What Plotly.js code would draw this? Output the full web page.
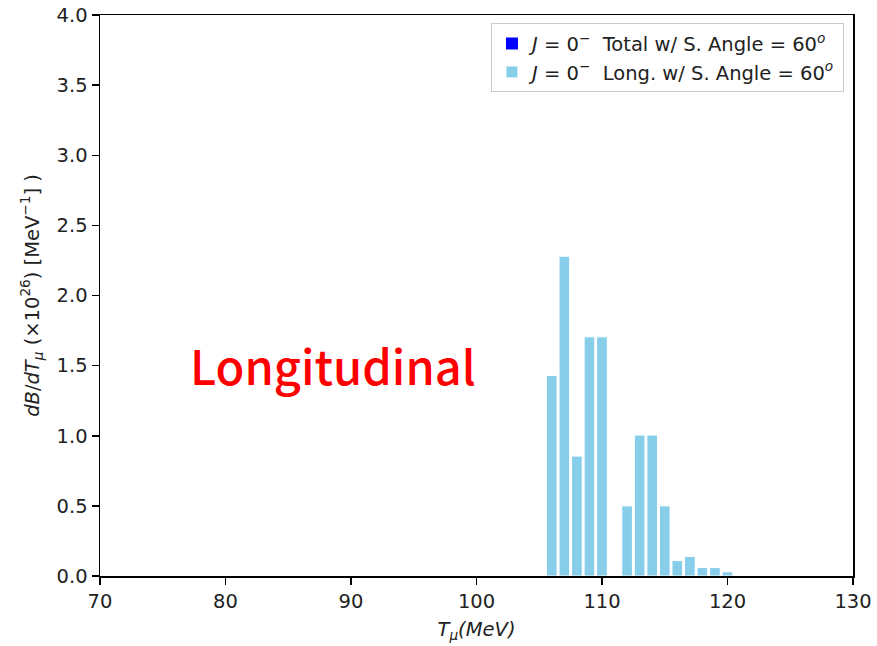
<!DOCTYPE html>
<html>
<head>
<meta charset="utf-8">
<script src="https://cdn.plot.ly/plotly-3.0.1.min.js"></script>
<style>html,body{margin:0;padding:0;background:#fff;}#chart{width:877px;height:646px;}</style>
</head>
<body>
<div id="chart"></div>
<script>
// Muon kinetic energy bin centers (MeV)
const energies = [106, 107, 108, 109, 110, 112, 113, 114, 115, 116, 117, 118, 119, 120];
// Longitudinal dB/dT (x1e26 MeV^-1)
const longValues = [1.43, 2.28, 0.855, 1.705, 1.705, 0.50, 1.005, 1.005, 0.50, 0.11, 0.14, 0.06, 0.06, 0.03];
// Total series (not visible in the picture)
const totalValues = [0, 0, 0, 0, 0, 0, 0, 0, 0, 0, 0, 0, 0, 0];
const xTicks = [70, 80, 90, 100, 110, 120, 130];
const yTicks = [0, 0.5, 1.0, 1.5, 2.0, 2.5, 3.0, 3.5, 4.0];

const font = "DejaVu Sans, sans-serif";
const fs = 19.5;
const traces = [
  {
    type: 'bar', x: energies, y: totalValues, width: 0.8,
    name: '<i>J</i> = 0<sup>−</sup>  Total w/ S. Angle = 60<sup><i>o</i></sup>',
    marker: {color: '#0000ff', line: {width: 0}}
  },
  {
    type: 'bar', x: energies, y: longValues, width: 0.85,
    name: '<i>J</i> = 0<sup>−</sup>  Long. w/ S. Angle = 60<sup><i>o</i></sup>',
    marker: {color: '#87ceeb', line: {color: '#ffffff', width: 1}}
  }
];
const layout = {
  width: 877, height: 646,
  margin: {l: 100, r: 24, t: 15, b: 70},
  paper_bgcolor: '#fff', plot_bgcolor: '#fff',
  barmode: 'overlay',
  font: {family: font, size: fs, color: '#222'},
  showlegend: true,
  legend: {
    x: 0.988, y: 0.985, xanchor: 'right', yanchor: 'top',
    bordercolor: '#cccccc', borderwidth: 1, bgcolor: 'rgba(255,255,255,0.9)',
    font: {family: font, size: fs, color: '#222'}, traceorder: 'normal',
    tracegroupgap: 4
  },
  xaxis: {
    range: [70, 130], tickvals: xTicks, ticktext: xTicks.map(String),
    ticks: 'outside', ticklen: 7, tickwidth: 1.5, tickcolor: '#000',
    showline: true, linecolor: '#000', linewidth: 1.5, mirror: true,
    showgrid: false, zeroline: false,
    tickfont: {family: font, size: fs, color: '#222'},
    title: {text: '<i>T<sub>μ</sub>(MeV)</i>', font: {family: font, size: fs, color: '#222'}, standoff: 10}
  },
  yaxis: {
    range: [0, 4.0], tickvals: yTicks, ticktext: yTicks.map(v => v.toFixed(1)),
    ticks: 'outside', ticklen: 7, tickwidth: 1.5, tickcolor: '#000',
    showline: true, linecolor: '#000', linewidth: 1.5, mirror: true,
    showgrid: false, zeroline: false,
    tickfont: {family: font, size: fs, color: '#222'},
    title: {text: '<i>dB</i>/<i>dT<sub>μ</sub></i> (×10<sup>26</sup>) [MeV<sup>−1</sup>] )', font: {family: font, size: fs, color: '#222'}, standoff: 12}
  },
  annotations: [{
    text: 'Longitudinal', xref: 'paper', yref: 'paper',
    x: (333 - 100) / 753, y: (576 - 364) / 561, xanchor: 'center', yanchor: 'middle',
    showarrow: false, font: {family: 'Noto Sans CJK KR, sans-serif', size: 47, color: '#ff0000', weight: 500}
  }]
};
Plotly.newPlot('chart', traces, layout, {displayModeBar: false, staticPlot: true});
</script>
</body>
</html>
